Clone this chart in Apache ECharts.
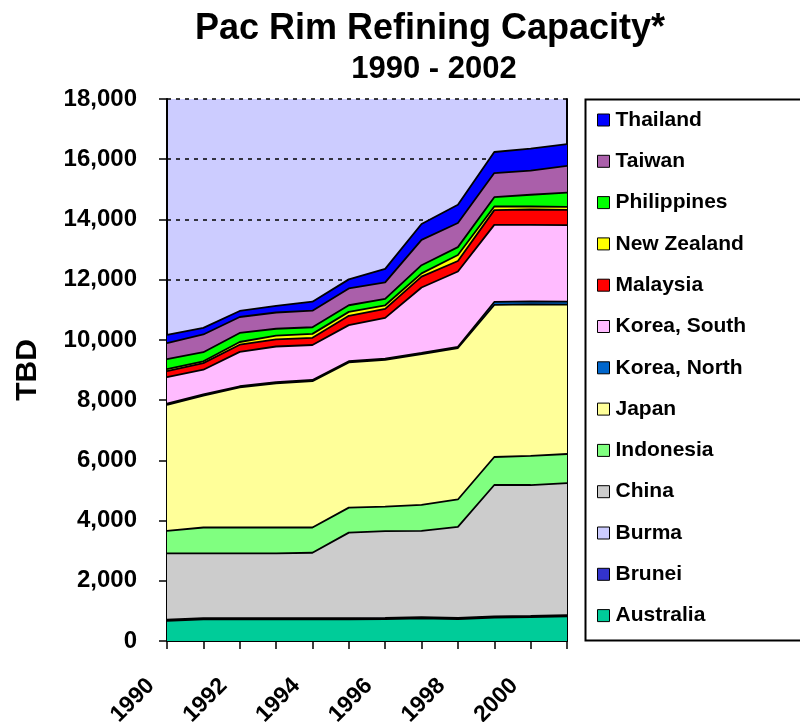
<!DOCTYPE html>
<html>
<head>
<meta charset="utf-8">
<title>Pac Rim Refining Capacity</title>
<script src="https://cdn.jsdelivr.net/npm/echarts@6/dist/echarts.min.js"></script>
<style>
  html, body { margin: 0; padding: 0; background: #fff; }
  #chart { width: 800px; height: 722px; }
</style>
</head>
<body>
<div id="chart"></div>
<script>
// Refining capacity by country, thousand barrels per day (TBD)
var years = ['1990', '1991', '1992', '1993', '1994', '1995', '1996', '1997', '1998', '1999', '2000', '2001'];

var australia   = [670, 720, 720, 720, 720, 720, 730, 750, 730, 780, 790, 820];
var brunei      = [10, 10, 10, 10, 10, 10, 10, 10, 10, 10, 10, 10];
var burma       = [30, 30, 30, 30, 30, 30, 30, 30, 30, 30, 30, 30];
var china       = [2200, 2150, 2150, 2150, 2170, 2840, 2880, 2870, 3020, 4360, 4350, 4380];
var indonesia   = [750, 860, 860, 860, 840, 830, 810, 860, 910, 930, 970, 970];
var japan       = [4180, 4380, 4650, 4790, 4860, 4820, 4880, 5010, 5030, 5050, 5030, 4960];
var koreaNorth  = [40, 40, 40, 40, 40, 40, 40, 40, 40, 100, 100, 100];
var koreaSouth  = [880, 820, 1140, 1180, 1160, 1200, 1350, 2170, 2500, 2560, 2540, 2540];
var malaysia    = [200, 220, 240, 240, 240, 310, 300, 360, 350, 490, 510, 510];
var newZealand  = [70, 60, 90, 120, 130, 130, 120, 110, 200, 120, 100, 100];
var philippines = [330, 300, 300, 230, 220, 220, 210, 270, 260, 310, 390, 470];
var taiwan      = [530, 590, 530, 540, 550, 560, 550, 840, 800, 800, 800, 890];
var thailand    = [280, 220, 200, 220, 300, 300, 450, 530, 610, 700, 730, 720];

var yTicks = { min: 0, max: 18000, interval: 2000 };

// Bottom of the stack first
var countries = [
  { name: 'Australia',    data: australia,   color: '#00CC99' },
  { name: 'Brunei',       data: brunei,      color: '#3333CC' },
  { name: 'Burma',        data: burma,       color: '#CCCCFF' },
  { name: 'China',        data: china,       color: '#CCCCCC' },
  { name: 'Indonesia',    data: indonesia,   color: '#80FF80' },
  { name: 'Japan',        data: japan,       color: '#FFFF99' },
  { name: 'Korea, North', data: koreaNorth,  color: '#0066CC' },
  { name: 'Korea, South', data: koreaSouth,  color: '#FFBBFF' },
  { name: 'Malaysia',     data: malaysia,    color: '#FF0000' },
  { name: 'New Zealand',  data: newZealand,  color: '#FFFF00' },
  { name: 'Philippines',  data: philippines, color: '#00FF00' },
  { name: 'Taiwan',       data: taiwan,      color: '#AA5FAA' },
  { name: 'Thailand',     data: thailand,    color: '#0000FF' }
];

var FONT = 'Liberation Sans, Arial, sans-serif';

var series = countries.map(function (c, i) {
  return {
    name: c.name,
    type: 'line',
    stack: 'capacity',
    data: c.data,
    symbol: 'none',
    // lower layers on top so every boundary line stays visible
    z: 20 - i,
    lineStyle: { color: '#000', width: 1.8 },
    itemStyle: { color: c.color },
    areaStyle: { color: c.color, opacity: 1 },
    emphasis: { disabled: true },
    animation: false
  };
});

var chart = echarts.init(document.getElementById('chart'), null, { renderer: 'canvas' });

chart.setOption({
  animation: false,
  backgroundColor: '#ffffff',
  textStyle: { fontFamily: FONT },
  title: [
    {
      text: 'Pac Rim Refining Capacity*',
      left: 425, top: 6, textAlign: 'center',
      textStyle: { fontFamily: FONT, fontSize: 36, fontWeight: 'bold', color: '#000' }
    },
    {
      text: '1990 - 2002',
      left: 429, top: 49, textAlign: 'center',
      textStyle: { fontFamily: FONT, fontSize: 31, fontWeight: 'bold', color: '#000' }
    }
  ],
  grid: {
    left: 167, right: 233, top: 99, bottom: 81,
    outerBoundsMode: 'none',
    containLabel: false,
    show: true, backgroundColor: '#CCCCFF', borderWidth: 0
  },
  legend: {
    orient: 'vertical',
    left: 592, top: 104,
    itemWidth: 12, itemHeight: 12,
    itemGap: 19.3,
    icon: 'rect',
    itemStyle: { borderColor: '#000', borderWidth: 1 },
    textStyle: { fontFamily: FONT, fontSize: 21, fontWeight: 'bold', color: '#000', lineHeight: 22, padding: [0, 0, 0, 1] },
    data: countries.map(function (c) { return c.name; }).reverse(),
    selectedMode: false
  },
  graphic: [
    {
      type: 'rect',
      shape: { x: 585.5, y: 99.5, width: 240, height: 541 },
      style: { fill: 'none', stroke: '#000', lineWidth: 2 },
      silent: true
    }
  ],
  xAxis: {
    type: 'category',
    data: years,
    boundaryGap: false,
    axisLine: { lineStyle: { color: '#000', width: 2 } },
    axisTick: { show: true, interval: 0, length: 8, lineStyle: { color: '#000', width: 1.5 } },
    axisLabel: {
      interval: 1, rotate: 45, margin: 25,
      padding: [0, 23, 0, 0],
      fontFamily: FONT, fontSize: 23, fontWeight: 'bold', color: '#000'
    },
    splitLine: { show: false }
  },
  yAxis: [
    {
      type: 'value',
      min: yTicks.min, max: yTicks.max, interval: yTicks.interval,
      name: 'TBD',
      nameLocation: 'middle',
      nameRotate: 90,
      nameGap: 124,
      nameTextStyle: { fontFamily: FONT, fontSize: 30, fontWeight: 'bold', color: '#000' },
      axisLine: { show: true, lineStyle: { color: '#000', width: 2 } },
      axisTick: { show: true, length: 8, lineStyle: { color: '#000', width: 1.5 } },
      axisLabel: {
        margin: 30,
        fontFamily: FONT, fontSize: 24, fontWeight: 'bold', color: '#000',
        formatter: function (v) { return v.toLocaleString('en-US'); }
      },
      splitLine: { show: true, lineStyle: { color: '#000', width: 1.5, type: [4, 5] } }
    },
    {
      type: 'value',
      position: 'right',
      min: yTicks.min, max: yTicks.max, interval: yTicks.interval,
      axisLine: { show: true, lineStyle: { color: '#000', width: 2 } },
      axisTick: { show: false },
      axisLabel: { show: false },
      splitLine: { show: false }
    }
  ],
  series: series
});
</script>
</body>
</html>
